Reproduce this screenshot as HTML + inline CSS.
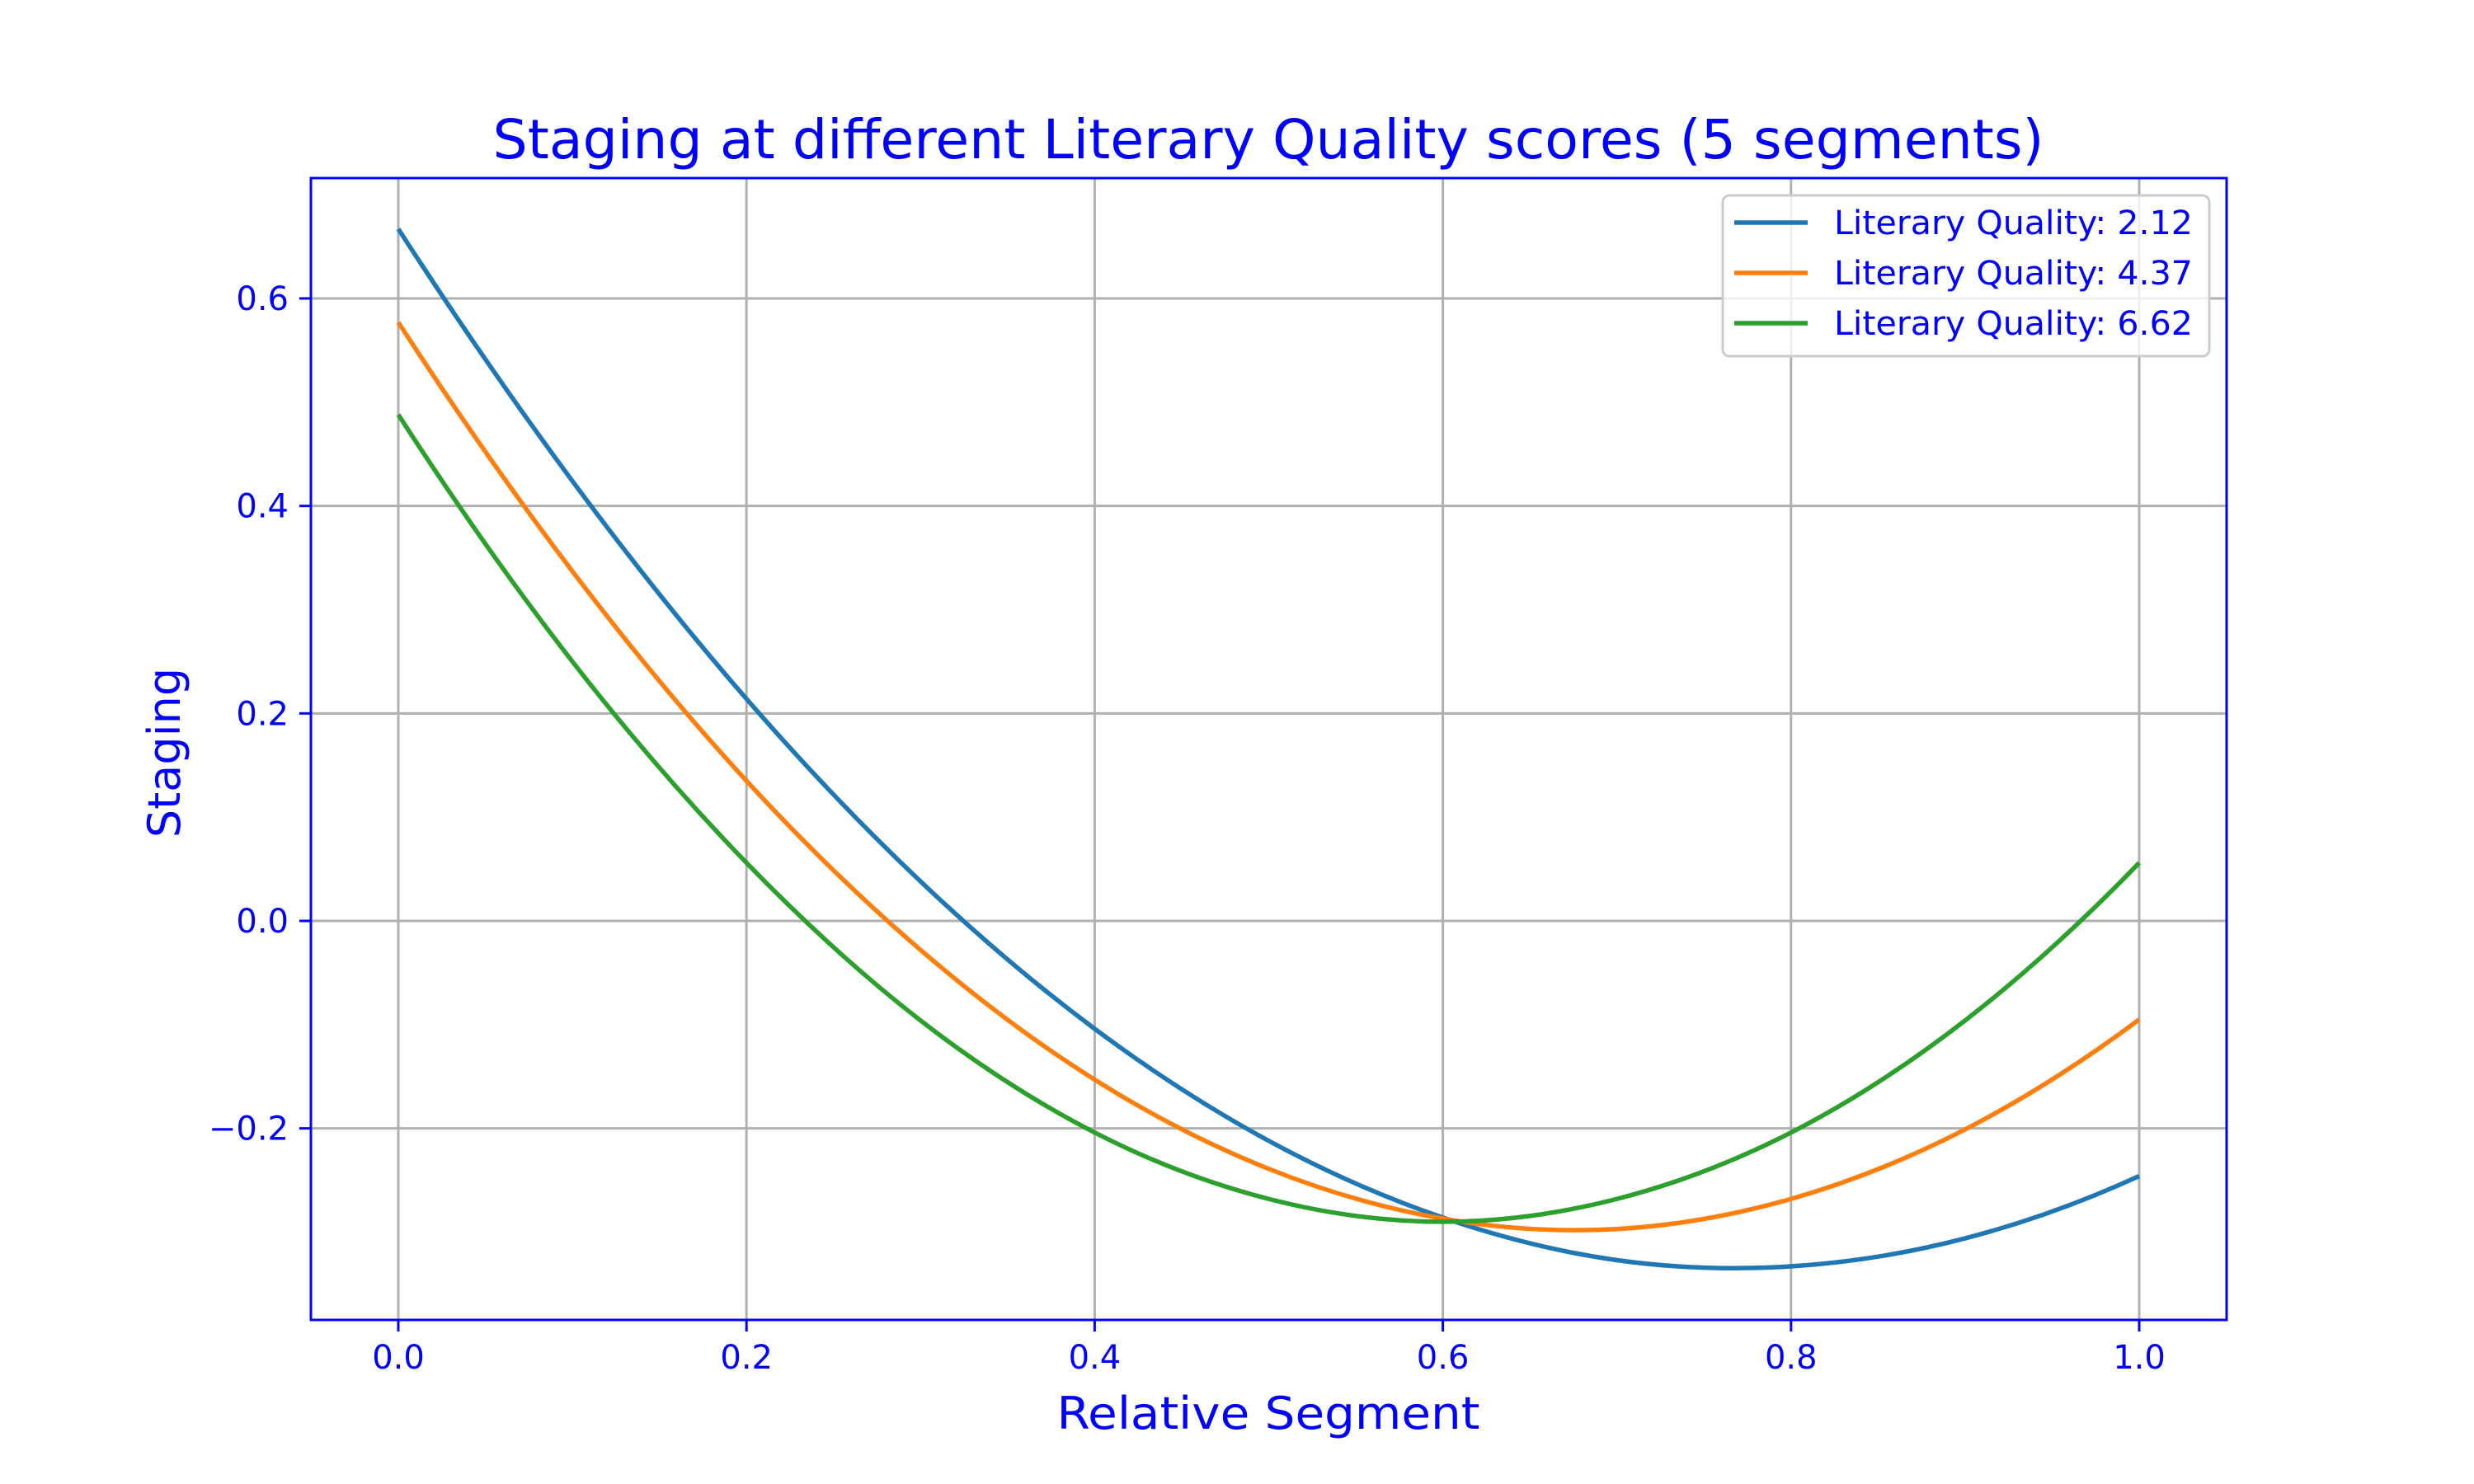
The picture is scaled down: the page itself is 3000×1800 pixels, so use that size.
<!DOCTYPE html>
<html><head><meta charset="utf-8"><style>html,body{margin:0;padding:0;background:#fff}svg{display:block}text{font-family:"DejaVu Sans","Liberation Sans",sans-serif;fill:#0000ff}</style></head>
<body>
<svg id="chart" width="3000" height="1800" viewBox="0 0 3000 1800">
<rect x="0" y="0" width="3000" height="1800" fill="#fff"/>
<text x="1538" y="192" font-size="66" text-anchor="middle" textLength="1881" lengthAdjust="spacingAndGlyphs">Staging at different Literary Quality scores (5 segments)</text>
<g id="grid"></g>
<g id="series"></g>
<rect x="377" y="216" width="2323" height="1385" fill="none" stroke="#0000ff" stroke-width="3"/>
<g id="ticks"></g>
<text x="1538" y="1733" font-size="54" text-anchor="middle" textLength="513" lengthAdjust="spacingAndGlyphs">Relative Segment</text>
<text transform="translate(218,913) rotate(-90)" font-size="54" text-anchor="middle">Staging</text>
<g id="legend"></g>
</svg>
<script>
const xValues = [0,0.1,0.2,0.3,0.4,0.5,0.6,0.7,0.8,0.9,1.0];
const seriesLabels = ["Literary Quality: 2.12","Literary Quality: 4.37","Literary Quality: 6.62"];
const seriesBlue = [0.667,0.424,0.214,0.038,-0.104,-0.212,-0.286,-0.327,-0.333,-0.306,-0.246];
const seriesOrange = [0.577,0.337,0.135,-0.028,-0.153,-0.239,-0.287,-0.297,-0.268,-0.201,-0.095];
const seriesGreen = [0.488,0.250,0.056,-0.096,-0.204,-0.268,-0.290,-0.268,-0.204,-0.096,0.056];
const xTicks = [0,0.2,0.4,0.6,0.8,1.0];
const xTickLabels = ["0.0","0.2","0.4","0.6","0.8","1.0"];
const yTicks = [-0.2,0,0.2,0.4,0.6];
const yTickLabels = ["\u22120.2","0.0","0.2","0.4","0.6"];

const NS="http://www.w3.org/2000/svg";
function X(v){return 483+v*2111;}
function Y(v){return 1117-v*(755/0.6);}
function mk(tag,attrs,parent){const e=document.createElementNS(NS,tag);for(const k in attrs)e.setAttribute(k,attrs[k]);parent.appendChild(e);return e;}
const grid=document.getElementById('grid'),ticks=document.getElementById('ticks'),ser=document.getElementById('series'),leg=document.getElementById('legend');
xTicks.forEach((t,i)=>{
 const g=mk('line',{x1:X(t),x2:X(t),y1:216,y2:1601,stroke:'#b0b0b0','stroke-width':3},grid);
 
 
 const tk=mk('line',{x1:X(t),x2:X(t),y1:1601,y2:1615,stroke:'#0000ff','stroke-width':3},ticks);
 
 
 const tx=mk('text',{x:X(t),y:1660,'font-size':40,'text-anchor':'middle'},ticks);
 tx.textContent=xTickLabels[i];
 
 
});
yTicks.forEach((t,i)=>{
 const g=mk('line',{x1:377,x2:2700,y1:Y(t),y2:Y(t),stroke:'#b0b0b0','stroke-width':3},grid);
 
 
 const tk=mk('line',{x1:363,x2:377,y1:Y(t),y2:Y(t),stroke:'#0000ff','stroke-width':3},ticks);
 
 
 const tx=mk('text',{x:350,y:Y(t)+14,'font-size':40,'text-anchor':'end'},ticks);
 tx.textContent=yTickLabels[i];
 
 
});
function smoothPath(xs,ys){
 const p=xs.map((x,i)=>[X(x),Y(ys[i])]);
 const n=p.length;
 const pre=[3*p[0][0]-3*p[1][0]+p[2][0],3*p[0][1]-3*p[1][1]+p[2][1]];
 const post=[3*p[n-1][0]-3*p[n-2][0]+p[n-3][0],3*p[n-1][1]-3*p[n-2][1]+p[n-3][1]];
 const q=[pre].concat(p,[post]);
 let d='M'+p[0][0]+','+p[0][1];
 for(let i=1;i<q.length-2;i++){
  const p0=q[i-1],p1=q[i],p2=q[i+1],p3=q[i+2];
  const c1=[p1[0]+(p2[0]-p0[0])/6,p1[1]+(p2[1]-p0[1])/6];
  const c2=[p2[0]-(p3[0]-p1[0])/6,p2[1]-(p3[1]-p1[1])/6];
  d+=' C'+c1[0]+','+c1[1]+' '+c2[0]+','+c2[1]+' '+p2[0]+','+p2[1];
 }
 return d;
}
const allSeries=[seriesBlue,seriesOrange,seriesGreen];
const colors=['#1f77b4','#ff7f0e','#2ca02c'];
const names=['series-2-12','series-4-37','series-6-62'];
allSeries.forEach((s,i)=>{
 const p=mk('path',{d:smoothPath(xValues,s),fill:'none',stroke:colors[i],'stroke-width':5.5,'stroke-linejoin':'round'},ser);
 
 
});
const box=mk('rect',{x:2089,y:237,width:590,height:195,rx:8,fill:'#fff','fill-opacity':0.8,stroke:'#cccccc','stroke-width':3},leg);


seriesLabels.forEach((l,i)=>{
 const yy=270+i*61;
 const ln=mk('line',{x1:2103,x2:2192,y1:yy,y2:yy,stroke:colors[i],'stroke-width':5.5},leg);
 
 
 const t=mk('text',{x:2224,y:yy+14,'font-size':40,textLength:435,lengthAdjust:'spacingAndGlyphs'},leg);
 t.textContent=l;
 
 
});
</script>
</body></html>
